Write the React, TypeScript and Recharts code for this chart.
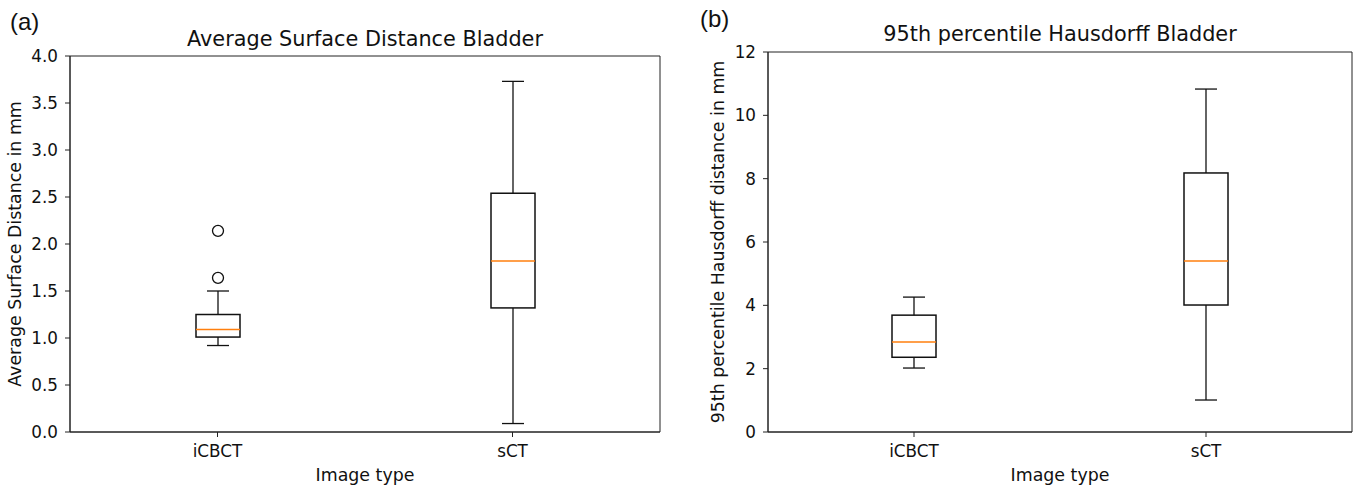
import { ComposedChart, Bar, XAxis, YAxis, ReferenceArea } from "recharts";

const categories = ["iCBCT", "sCT"];

// (a) average surface distance, mm
const asdLow = [0.92, 0.09];
const asdQ1 = [1.01, 1.32];
const asdMedian = [1.09, 1.82];
const asdQ3 = [1.25, 2.54];
const asdHigh = [1.5, 3.73];
const asdOutliers = [[1.64, 2.14], []];
const asdTicks = [0, 0.5, 1, 1.5, 2, 2.5, 3, 3.5, 4];

// (b) 95th percentile hausdorff, mm
const hdLow = [2.02, 1.01];
const hdQ1 = [2.36, 4.01];
const hdMedian = [2.84, 5.4];
const hdQ3 = [3.69, 8.18];
const hdHigh = [4.26, 10.83];
const hdOutliers = [[], []];
const hdTicks = [0, 2, 4, 6, 8, 10, 12];

const FONT = "'DejaVu Sans', sans-serif";

function buildRows(low, q1, med, q3, high, outliers) {
  return categories.map((name, i) => ({
    name,
    low: low[i],
    q1: q1[i],
    med: med[i],
    q3: q3[i],
    high: high[i],
    outliers: outliers[i],
    range: [Math.min(low[i], ...outliers[i]), Math.max(high[i], ...outliers[i])],
  }));
}

// one bar spans the whole range; the rest of the glyph is placed along it
function BoxShape(props: any) {
  const { x, y, width, height, payload } = props;
  const [lo, hi] = payload.range;
  const top = Math.min(y, y + height);
  const h = Math.abs(height);
  const py = (v: number) => top + (h * (hi - v)) / (hi - lo);
  const cx = x + width / 2;
  const cap = width / 4;
  const s = "#111";
  return (
    <g>
      <line x1={cx} x2={cx} y1={py(payload.low)} y2={py(payload.q1)} stroke={s} strokeWidth={1.3} />
      <line x1={cx} x2={cx} y1={py(payload.q3)} y2={py(payload.high)} stroke={s} strokeWidth={1.3} />
      <line x1={cx - cap} x2={cx + cap} y1={py(payload.low)} y2={py(payload.low)} stroke={s} strokeWidth={1.3} />
      <line x1={cx - cap} x2={cx + cap} y1={py(payload.high)} y2={py(payload.high)} stroke={s} strokeWidth={1.3} />
      <rect x={x} y={py(payload.q3)} width={width} height={py(payload.q1) - py(payload.q3)} fill="none" stroke={s} strokeWidth={1.5} />
      <line x1={x} x2={x + width} y1={py(payload.med)} y2={py(payload.med)} stroke="#ff7f0e" strokeWidth={1.5} />
      {payload.outliers.map((o: number, k: number) => (
        <circle key={k} cx={cx} cy={py(o)} r={5.5} fill="none" stroke={s} strokeWidth={1.3} />
      ))}
    </g>
  );
}

function Panel({ left, width, yWidth, top, right, rows, ticks, domain, fmt, title, titleY, yLabel, yLabelX, letter, letterX, letterY }) {
  const plotLeft = left + yWidth;
  const plotRight = left + width - right;
  const mid = (plotLeft + plotRight) / 2;
  const tickStyle = { fill: "#111", fontSize: 16.8, fontFamily: FONT };
  return (
    <>
      <div style={{ position: "absolute", left, top: 0 }}>
        <ComposedChart width={width} height={485} data={rows} margin={{ top, right, left: 0, bottom: 0 }}>
          <XAxis dataKey="name" height={53} tick={tickStyle} tickSize={5} tickMargin={8} axisLine={{ stroke: "#222" }} tickLine={{ stroke: "#222" }} />
          <YAxis width={yWidth} domain={domain} ticks={ticks} tickFormatter={fmt} tick={tickStyle} tickSize={5} tickMargin={7} interval={0} axisLine={{ stroke: "#222" }} tickLine={{ stroke: "#222" }} />
          <ReferenceArea y1={domain[0]} y2={domain[1]} fill="none" fillOpacity={0} stroke="#222" strokeWidth={1} ifOverflow="visible" />
          <Bar dataKey="range" barSize={44} shape={BoxShape} isAnimationActive={false} />
        </ComposedChart>
      </div>
      <div style={{ position: "absolute", left: mid, top: titleY, transform: "translate(-50%,-50%)", fontSize: 20.8, fontFamily: FONT, color: "#111", whiteSpace: "nowrap" }}>{title}</div>
      <div style={{ position: "absolute", left: mid, top: 475, transform: "translate(-50%,-50%)", fontSize: 17.4, fontFamily: FONT, color: "#111", whiteSpace: "nowrap" }}>Image type</div>
      <div style={{ position: "absolute", left: yLabelX, top: (top + 432) / 2, transform: "translate(-50%,-50%) rotate(-90deg)", fontSize: 17.4, fontFamily: FONT, color: "#111", whiteSpace: "nowrap" }}>{yLabel}</div>
      <div style={{ position: "absolute", left: letterX, top: letterY, transform: "translateY(-50%)", fontSize: 24, fontFamily: "'Liberation Sans', Arial, sans-serif", color: "#111" }}>{letter}</div>
    </>
  );
}

export default function App() {
  const asdRows = buildRows(asdLow, asdQ1, asdMedian, asdQ3, asdHigh, asdOutliers);
  const hdRows = buildRows(hdLow, hdQ1, hdMedian, hdQ3, hdHigh, hdOutliers);
  return (
    <div style={{ position: "absolute", left: 0, top: 0, width: 1354, height: 485, background: "#fff", overflow: "hidden" }}>
      <Panel left={0} width={680} yWidth={70} top={56} right={20} rows={asdRows} ticks={asdTicks} domain={[0, 4]} fmt={(v: number) => v.toFixed(1)}
        title="Average Surface Distance Bladder" titleY={39} yLabel="Average Surface Distance in mm" yLabelX={15} letter="(a)" letterX={10} letterY={22} />
      <Panel left={680} width={674} yWidth={88} top={52} right={2} rows={hdRows} ticks={hdTicks} domain={[0, 12]} fmt={(v: number) => String(v)}
        title="95th percentile Hausdorff Bladder" titleY={34} yLabel="95th percentile Hausdorff distance in mm" yLabelX={718} letter="(b)" letterX={700} letterY={19} />
    </div>
  );
}
